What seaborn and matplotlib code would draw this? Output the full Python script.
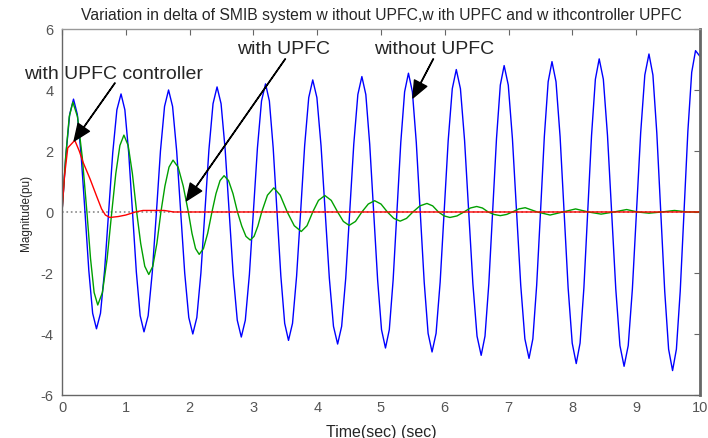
import pandas as pd
import matplotlib
matplotlib.use('Agg')
import matplotlib.pyplot as plt
import seaborn as sns

# blue: without UPFC, one half-cycle per row
blue_t = [0.0, 0.06, 0.12, 0.18, 0.24, 0.30, 0.36,
          0.42, 0.48, 0.54, 0.603, 0.667, 0.73,
          0.795, 0.86, 0.925, 0.985, 1.045, 1.105,
          1.165, 1.225, 1.285, 1.35, 1.415, 1.48,
          1.543, 1.607, 1.67, 1.733, 1.797, 1.86,
          1.923, 1.987, 2.05, 2.113, 2.177, 2.24,
          2.303, 2.367, 2.43, 2.493, 2.557, 2.62,
          2.683, 2.747, 2.81, 2.873, 2.937, 3.0,
          3.063, 3.127, 3.19, 3.25, 3.31, 3.37,
          3.43, 3.49, 3.55, 3.613, 3.677, 3.74,
          3.803, 3.867, 3.93, 3.995, 4.06, 4.125,
          4.19, 4.255, 4.32, 4.383, 4.447, 4.51,
          4.573, 4.637, 4.70, 4.762, 4.823, 4.885,
          4.947, 5.008, 5.07, 5.13, 5.19, 5.25,
          5.31, 5.37, 5.43, 5.492, 5.553, 5.615,
          5.677, 5.738, 5.80, 5.863, 5.927, 5.99,
          6.053, 6.117, 6.18, 6.245, 6.31, 6.375,
          6.44, 6.505, 6.57, 6.63, 6.69, 6.75,
          6.81, 6.87, 6.93, 6.995, 7.06, 7.125,
          7.19, 7.255, 7.32, 7.38, 7.44, 7.50,
          7.56, 7.62, 7.68, 7.743, 7.807, 7.87,
          7.933, 7.997, 8.06, 8.12, 8.18, 8.24,
          8.30, 8.36, 8.42, 8.485, 8.55, 8.615,
          8.68, 8.745, 8.81, 8.875, 8.94, 9.005,
          9.07, 9.135, 9.20, 9.262, 9.323, 9.385,
          9.447, 9.508, 9.57, 9.63, 9.69, 9.75,
          9.81, 9.87, 9.93, 10.0]
blue_y = [0.0, 1.85, 3.2, 3.7, 3.2, 1.85, 0.0,
          -1.92, -3.32, -3.83, -3.32, -1.92, 0.0,
          1.94, 3.35, 3.87, 3.35, 1.94, 0.0,
          -1.97, -3.4, -3.93, -3.4, -1.97, 0.0,
          2.0, 3.46, 4.0, 3.46, 2.0, 0.0,
          -2.0, -3.46, -4.0, -3.46, -2.0, 0.0,
          2.05, 3.55, 4.1, 3.55, 2.05, 0.0,
          -2.05, -3.55, -4.1, -3.55, -2.05, 0.0,
          2.1, 3.64, 4.2, 3.64, 2.1, 0.0,
          -2.1, -3.65, -4.21, -3.65, -2.1, 0.0,
          2.17, 3.75, 4.33, 3.75, 2.17, 0.0,
          -2.17, -3.75, -4.33, -3.75, -2.17, 0.0,
          2.22, 3.85, 4.44, 3.85, 2.22, 0.0,
          -2.23, -3.86, -4.46, -3.86, -2.23, 0.0,
          2.28, 3.94, 4.55, 3.94, 2.28, 0.0,
          -2.3, -3.98, -4.59, -3.98, -2.3, 0.0,
          2.34, 4.04, 4.67, 4.04, 2.34, 0.0,
          -2.35, -4.07, -4.7, -4.07, -2.35, 0.0,
          2.4, 4.16, 4.8, 4.16, 2.4, 0.0,
          -2.4, -4.16, -4.8, -4.16, -2.4, 0.0,
          2.47, 4.27, 4.93, 4.27, 2.47, 0.0,
          -2.49, -4.3, -4.97, -4.3, -2.49, 0.0,
          2.51, 4.35, 5.02, 4.35, 2.51, 0.0,
          -2.53, -4.38, -5.06, -4.38, -2.53, 0.0,
          2.59, 4.49, 5.18, 4.49, 2.59, 0.0,
          -2.6, -4.5, -5.2, -4.5, -2.6, 0.0,
          2.65, 4.58, 5.29, 5.1]

# green: with UPFC
green_t = [0.0, 0.057, 0.113, 0.17, 0.243, 0.317, 0.39,
           0.447, 0.503, 0.56, 0.633, 0.707, 0.78,
           0.843, 0.907, 0.97, 1.037, 1.103, 1.17,
           1.233, 1.297, 1.36, 1.423, 1.487, 1.55,
           1.613, 1.677, 1.74, 1.82, 1.90, 1.98,
           2.037, 2.093, 2.15, 2.217, 2.283, 2.35,
           2.413, 2.477, 2.54, 2.61, 2.68, 2.75,
           2.817, 2.883, 2.95, 3.01, 3.07, 3.13,
           3.22, 3.32, 3.42, 3.53, 3.64, 3.75, 3.84, 3.93,
           4.02, 4.12, 4.22, 4.32, 4.41, 4.50, 4.60, 4.70, 4.80, 4.90,
           5.00, 5.10, 5.20, 5.30, 5.40, 5.50, 5.61, 5.72, 5.81, 5.90,
           5.99, 6.08, 6.19, 6.30, 6.40, 6.50, 6.59, 6.68, 6.77, 6.87,
           6.97, 7.06, 7.16, 7.26, 7.45, 7.65, 7.85, 8.05, 8.25, 8.45,
           8.65, 8.85, 9.02, 9.20, 9.40, 9.60, 9.80, 10.0]
green_y = [0.0, 1.8, 3.12, 3.6, 3.12, 1.8, 0.0,
           -1.53, -2.64, -3.05, -2.64, -1.53, 0.0,
           1.26, 2.18, 2.52, 2.18, 1.26, 0.0,
           -1.03, -1.78, -2.05, -1.78, -1.03, 0.0,
           0.85, 1.47, 1.7, 1.47, 0.85, 0.0,
           -0.7, -1.2, -1.39, -1.2, -0.7, 0.0,
           0.6, 1.03, 1.19, 1.03, 0.6, 0.0,
           -0.46, -0.8, -0.92, -0.8, -0.46, 0.0,
           0.55, 0.79, 0.55, 0.0, -0.45, -0.64, -0.45, 0.0,
           0.38, 0.54, 0.38, 0.0, -0.31, -0.44, -0.31, 0.0, 0.26, 0.37,
           0.26, 0.0, -0.21, -0.3, -0.21, 0.0, 0.2, 0.28, 0.2, 0.0,
           -0.13, -0.18, -0.13, 0.0, 0.13, 0.18, 0.13, 0.0, -0.08, -0.12,
           -0.08, 0.0, 0.1, 0.14, 0.0, -0.1, 0.0, 0.1, 0.0, -0.07,
           0.0, 0.08, 0.0, -0.04, 0.0, 0.05, 0.0, 0.0]

# red: with UPFC controller
red_t = [0.0, 0.04, 0.09, 0.2, 0.27, 0.33, 0.44, 0.54, 0.62, 0.68, 0.75,
         0.88, 1.0, 1.15, 1.27, 1.6, 1.75, 10.0]
red_y = [0.0, 1.2, 2.1, 2.35, 2.0, 1.63, 1.08, 0.53, 0.1, -0.1, -0.18,
         -0.15, -0.1, 0.0, 0.05, 0.05, 0.0, 0.0]

x_ticks = list(range(0, 11))
y_ticks = [-6, -4, -2, 0, 2, 4, 6]

title = ('Variation in delta of SMIB system w ithout UPFC,w ith UPFC '
         'and w ithcontroller UPFC')

# labels: (text, text position, arrow tail, arrow tip)
notes = [
    ('with UPFC controller', (0.815, 4.55), (0.83, 4.23), (0.19, 2.33)),
    ('with UPFC', (3.47, 5.37), (3.50, 5.02), (1.95, 0.37)),
    ('without UPFC', (5.83, 5.37), (5.82, 5.02), (5.50, 3.74)),
]

sns.set_style('white')
plt.rcParams['font.family'] = ['Liberation Sans', 'DejaVu Sans']
plt.rcParams['axes.unicode_minus'] = False

fig = plt.figure(figsize=(7.08, 4.39), dpi=100)
ax = fig.add_axes([0.0876, 0.098, 0.9011, 0.8337])

ax.axhline(0, color='#888888', lw=1.2, ls=':', zorder=1)

blue = pd.DataFrame({'t': blue_t, 'y': blue_y})
green = pd.DataFrame({'t': green_t, 'y': green_y})
red = pd.DataFrame({'t': red_t, 'y': red_y})
sns.lineplot(data=blue, x='t', y='y', sort=False, estimator=None,
             color='#0000ff', lw=1.0, ax=ax)
sns.lineplot(data=green, x='t', y='y', sort=False, estimator=None,
             color='#00a000', lw=1.0, ax=ax)
sns.lineplot(data=red, x='t', y='y', sort=False, estimator=None,
             color='#ff0000', lw=1.0, ax=ax)

ax.set_xlim(0, 10)
ax.set_ylim(-6, 6)
ax.set_xticks(x_ticks)
ax.set_yticks(y_ticks)
ax.tick_params(direction='in', length=4, width=0.8, color='#666666',
               labelcolor='#555555', labelsize=10.5, top=True, right=True)
ax.tick_params(axis='y', pad=6)
for side in ['left', 'bottom', 'top']:
    ax.spines[side].set_color('#666666')
    ax.spines[side].set_linewidth(1.0)
ax.spines['top'].set_color('#999999')
ax.spines['right'].set_color('#666666')
ax.spines['right'].set_linewidth(2.0)

ax.set_title(title, fontsize=11.3, pad=7)
ax.set_xlabel('Time(sec) (sec)', fontsize=11.5, labelpad=7)
ax.set_ylabel('Magnitude(pu)', fontsize=8.5, labelpad=6)

for txt, pos, tail, tip in notes:
    ax.text(pos[0], pos[1], txt, ha='center', va='center', fontsize=14)
    ax.annotate('', xy=tip, xytext=tail,
                arrowprops=dict(color='black', width=0.3, headwidth=10,
                                headlength=12))

fig.savefig('out.png', dpi=100)
